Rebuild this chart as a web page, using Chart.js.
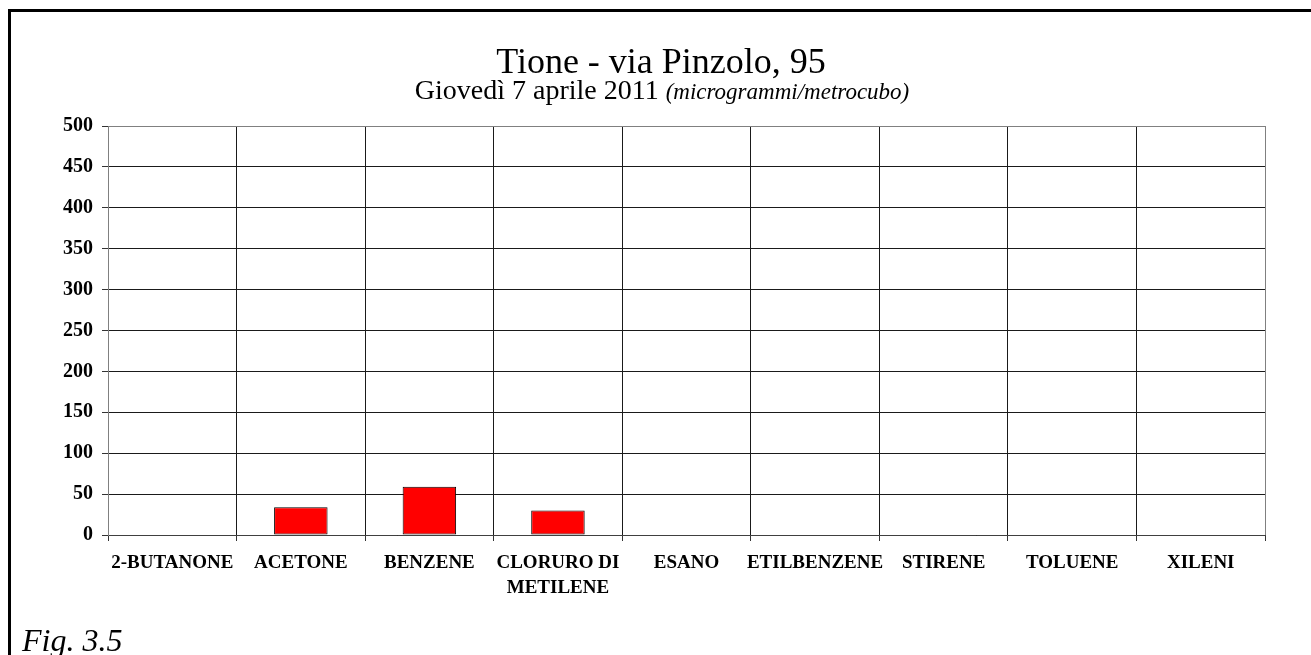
<!DOCTYPE html>
<html>
<head>
<meta charset="utf-8">
<script src="https://cdn.jsdelivr.net/npm/chart.js@4/dist/chart.umd.min.js"></script>
<style>
  html, body { margin: 0; padding: 0; background: #fff; }
  #wrap { position: relative; width: 1311px; height: 655px; overflow: hidden; }
  #frame { position: absolute; left: 8px; top: 9px; width: 1400px; height: 700px;
           border-left: 3px solid #000; border-top: 3px solid #000; }
  canvas { position: absolute; left: 0; top: 0; }
</style>
</head>
<body>
<div id="wrap">
  <div id="frame"></div>
  <canvas id="chart" width="1311" height="655"></canvas>
</div>
<script>
const categories = ['2-BUTANONE', 'ACETONE', 'BENZENE', ['CLORURO DI', 'METILENE'], 'ESANO',
                    'ETILBENZENE', 'STIRENE', 'TOLUENE', 'XILENI'];
const values = [0, 34, 59, 30, 0, 0, 0, 0, 0];
const yMin = 0, yMax = 500, yStep = 50;

const titleText = 'Tione - via Pinzolo, 95';
const subText = 'Giovedì 7 aprile 2011 ';
const subUnit = '(microgrammi/metrocubo)';
const figText = 'Fig. 3.5';

const serif = '"Liberation Serif", "DejaVu Serif", serif';

// titles drawn by hand so the subtitle can mix upright and italic
const textPlugin = {
  id: 'texts',
  afterDraw(chart) {
    const ctx = chart.ctx;
    ctx.save();
    ctx.fillStyle = '#000';
    ctx.textBaseline = 'alphabetic';
    ctx.textAlign = 'center';
    ctx.font = '36px ' + serif;
    ctx.fillText(titleText, 661, 73);

    ctx.textAlign = 'left';
    ctx.font = '28px ' + serif;
    const w1 = ctx.measureText(subText).width;
    ctx.font = 'italic 23px ' + serif;
    const w2 = ctx.measureText(subUnit).width;
    const x = 662 - (w1 + w2) / 2;
    ctx.font = '28px ' + serif;
    ctx.fillText(subText, x, 99);
    ctx.font = 'italic 23px ' + serif;
    ctx.fillText(subUnit, x + w1, 99);

    ctx.font = 'italic 32px ' + serif;
    ctx.fillText(figText, 22, 651);
    ctx.restore();
  }
};

new Chart(document.getElementById('chart'), {
  type: 'bar',
  data: {
    labels: categories,
    datasets: [{
      data: values,
      backgroundColor: '#ff0000',
      borderColor: '#000',
      borderWidth: 1,
      borderSkipped: false,
      categoryPercentage: 0.8,
      barPercentage: 0.52
    }]
  },
  options: {
    responsive: false,
    animation: false,
    layout: { padding: { left: 0, right: 46, top: 126, bottom: 50 } },
    plugins: { legend: { display: false }, tooltip: { enabled: false } },
    scales: {
      x: {
        grid: {
          offset: true,
          color: (c) => c.type === 'tick' ? '#1a1a1a' : '#808080',
          tickColor: '#333',
          tickLength: 6
        },
        border: { color: '#404040' },
        ticks: {
          color: '#000',
          font: { family: serif, size: 19, weight: 'bold', lineHeight: 1.35 },
          padding: 9,
          maxRotation: 0,
          autoSkip: false
        },
        afterFit(scale) { scale.height = 70; }
      },
      y: {
        min: yMin,
        max: yMax,
        grid: {
          color: (c) => c.tick && c.tick.value === yMax ? '#808080' : '#1a1a1a',
          tickColor: '#333',
          tickLength: 6
        },
        border: { color: '#808080' },
        ticks: {
          stepSize: yStep,
          color: '#000',
          font: { family: serif, size: 20, weight: 'bold' },
          padding: 9
        },
        afterFit(scale) { scale.width = 108; }
      }
    }
  },
  plugins: [textPlugin]
});
</script>
</body>
</html>
